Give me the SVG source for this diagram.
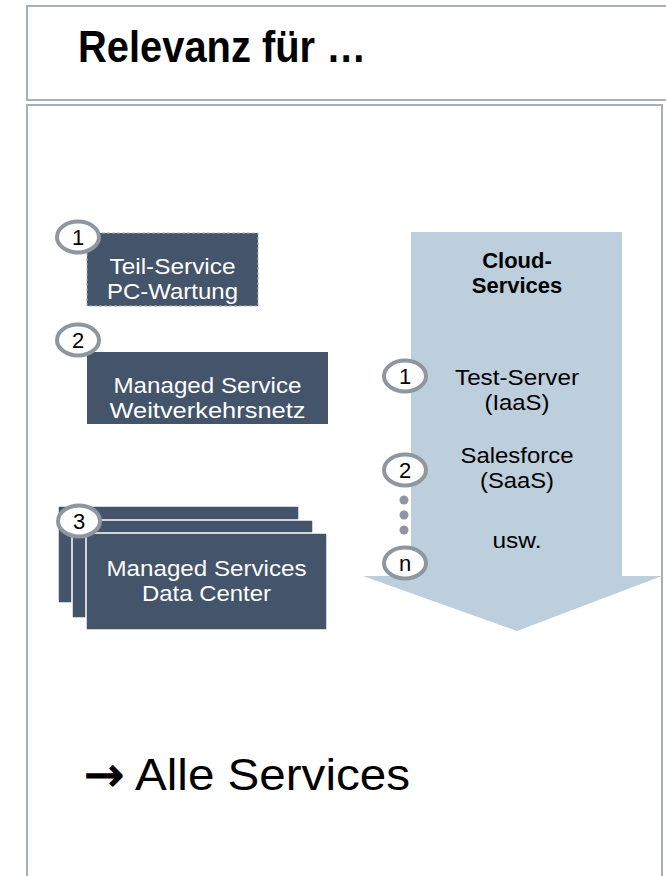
<svg xmlns="http://www.w3.org/2000/svg" width="666" height="876" viewBox="0 0 666 876">
  <style>
    .frame { fill: #ffffff; stroke: #a7afb8; stroke-width: 2; }
    .box { fill: #44546a; }
    .stack { fill: #44546a; stroke: #ffffff; stroke-width: 1.5; }
    .lbl { font-family: "Liberation Sans", Arial, sans-serif; font-size: 22px; fill: #ffffff; text-anchor: middle; }
    .dark { font-family: "Liberation Sans", Arial, sans-serif; font-size: 22px; fill: #000000; text-anchor: middle; }
    .badge ellipse { fill: #ffffff; stroke: #8e979f; stroke-width: 4; }
    .badge text { font-family: "Liberation Sans", Arial, sans-serif; font-size: 22px; fill: #000000; text-anchor: middle; }
    .dot { fill: #8e979f; }
  </style>

  <!-- page frames -->
  <g id="frames">
    <rect class="frame" x="27" y="6" width="650" height="94"/>
    <rect class="frame" x="27" y="105" width="635" height="790"/>
  </g>

  <g id="title">
    <text x="78" y="62" font-family="'Liberation Sans', Arial, sans-serif" font-size="45" font-weight="bold" textLength="288" lengthAdjust="spacingAndGlyphs">Relevanz für …</text>
  </g>

  <!-- cloud services arrow -->
  <g id="cloud">
    <path d="M411 232 H622 V576 H662 L517 631 L363 576 H411 Z" fill="#bdcedc"/>
    <text class="dark" x="517" y="268" font-weight="bold">Cloud-</text>
    <text class="dark" x="517" y="293" font-weight="bold">Services</text>
    <text class="dark" x="517" y="385" textLength="124" lengthAdjust="spacingAndGlyphs">Test-Server</text>
    <text class="dark" x="517" y="410" textLength="65" lengthAdjust="spacingAndGlyphs">(IaaS)</text>
    <text class="dark" x="517" y="463" textLength="113" lengthAdjust="spacingAndGlyphs">Salesforce</text>
    <text class="dark" x="517" y="488" textLength="74" lengthAdjust="spacingAndGlyphs">(SaaS)</text>
    <text class="dark" x="517" y="548" textLength="49" lengthAdjust="spacingAndGlyphs">usw.</text>
  </g>

  <g id="service1">
    <rect class="box" x="87" y="233" width="171" height="73" stroke="#a9b1ba" stroke-width="1" stroke-dasharray="3 2"/>
    <text class="lbl" x="172.5" y="274" textLength="126" lengthAdjust="spacingAndGlyphs">Teil-Service</text>
    <text class="lbl" x="172.5" y="299" textLength="131" lengthAdjust="spacingAndGlyphs">PC-Wartung</text>
  </g>

  <g id="service2">
    <rect class="box" x="87" y="352" width="241" height="72"/>
    <text class="lbl" x="207.5" y="393" textLength="188" lengthAdjust="spacingAndGlyphs">Managed Service</text>
    <text class="lbl" x="207.5" y="418" textLength="196" lengthAdjust="spacingAndGlyphs">Weitverkehrsnetz</text>
  </g>

  <g id="service3">
    <rect class="stack" x="58" y="506" width="241" height="97"/>
    <rect class="stack" x="72" y="520" width="241" height="98"/>
    <rect class="stack" x="86" y="533" width="241" height="97"/>
    <text class="lbl" x="206.5" y="576" textLength="200" lengthAdjust="spacingAndGlyphs">Managed Services</text>
    <text class="lbl" x="206.5" y="601" textLength="129" lengthAdjust="spacingAndGlyphs">Data Center</text>
  </g>

  <!-- numbered badges -->
  <g id="badges">
    <g class="badge"><ellipse cx="78" cy="237" rx="21" ry="15.5"/><text x="78" y="245">1</text></g>
    <g class="badge"><ellipse cx="78" cy="340" rx="21" ry="15.5"/><text x="78" y="348">2</text></g>
    <g class="badge"><ellipse cx="79" cy="521" rx="21" ry="15.5"/><text x="79" y="529">3</text></g>
    <g class="badge"><ellipse cx="405" cy="376" rx="21" ry="15.5"/><text x="405" y="384">1</text></g>
    <g class="badge"><ellipse cx="405" cy="470" rx="21" ry="15.5"/><text x="405" y="478">2</text></g>
    <g class="badge"><ellipse cx="405" cy="563" rx="21" ry="15.5"/><text x="405" y="571">n</text></g>
  </g>

  <g id="connectors">
    <circle class="dot" cx="404" cy="500" r="4.5"/>
    <circle class="dot" cx="404" cy="515" r="4.5"/>
    <circle class="dot" cx="404" cy="530" r="4.5"/>
  </g>

  <g id="conclusion">
    <text x="84" y="791" font-family="'DejaVu Sans', sans-serif" font-size="48" stroke="#000000" stroke-width="1.2">→</text>
    <text x="135" y="790" font-family="'Liberation Sans', Arial, sans-serif" font-size="45" textLength="275" lengthAdjust="spacingAndGlyphs">Alle Services</text>
  </g>
</svg>
